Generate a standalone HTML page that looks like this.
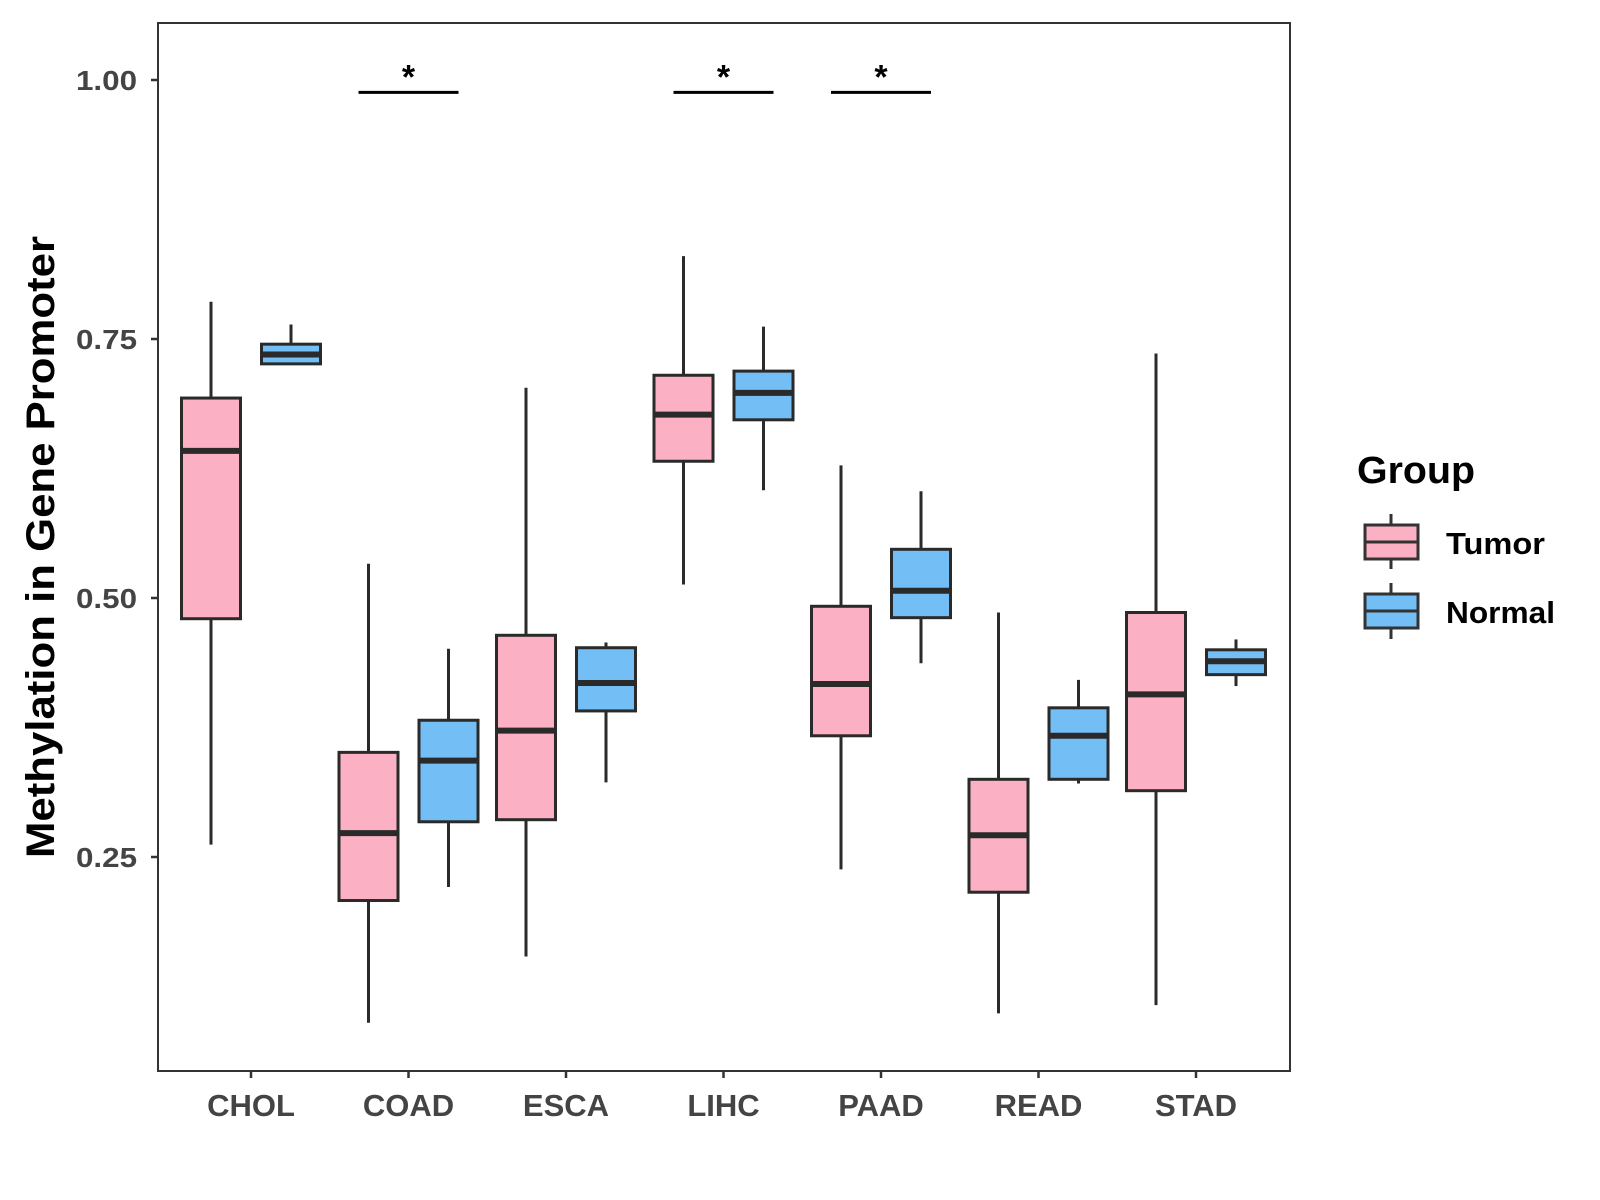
<!DOCTYPE html>
<html><head><meta charset="utf-8"><style>
body{margin:0;background:#fff}
svg{display:block;font-family:"Liberation Sans",Arial,sans-serif;font-weight:bold}
</style></head><body>
<svg id="chart" width="1600" height="1200" viewBox="0 0 1600 1200" xmlns="http://www.w3.org/2000/svg">
<rect x="158" y="23" width="1132" height="1048" fill="#fff" stroke="#333" stroke-width="2"/>
<g id="marks"></g>
<text x="1357" y="483" font-size="38" textLength="118" lengthAdjust="spacingAndGlyphs" fill="#000">Group</text>
<g>
<line x1="1391" y1="514" x2="1391" y2="569" stroke="#333" stroke-width="3"/>
<rect x="1365" y="525" width="53" height="34" fill="#FBB1C3" stroke="#333" stroke-width="3"/>
<line x1="1365" y1="542" x2="1418" y2="542" stroke="#333" stroke-width="3"/>
<text x="1446" y="554" font-size="31" textLength="99" lengthAdjust="spacingAndGlyphs" fill="#000">Tumor</text>
</g>
<g>
<line x1="1391" y1="583" x2="1391" y2="639" stroke="#333" stroke-width="3"/>
<rect x="1365" y="594" width="53" height="34" fill="#74BEF6" stroke="#333" stroke-width="3"/>
<line x1="1365" y1="611" x2="1418" y2="611" stroke="#333" stroke-width="3"/>
<text x="1446" y="623" font-size="31" textLength="109" lengthAdjust="spacingAndGlyphs" fill="#000">Normal</text>
</g>
<text transform="translate(54,547) rotate(-90)" text-anchor="middle" font-size="40" textLength="622" lengthAdjust="spacingAndGlyphs" fill="#000">Methylation in Gene Promoter</text>
</svg>
<script>
const categories=["CHOL","COAD","ESCA","LIHC","PAAD","READ","STAD"];
// [low, q1, median, q3, high]
const tumorStats=[[0.262,0.480,0.642,0.693,0.786],[0.090,0.208,0.273,0.351,0.533],[0.154,0.286,0.372,0.464,0.703],[0.513,0.632,0.677,0.715,0.830],[0.238,0.367,0.417,0.492,0.628],[0.099,0.216,0.271,0.325,0.486],[0.107,0.314,0.407,0.486,0.736]];
const normalStats=[[0.726,0.726,0.735,0.745,0.764],[0.221,0.284,0.343,0.382,0.451],[0.322,0.391,0.418,0.452,0.457],[0.604,0.672,0.698,0.719,0.762],[0.437,0.481,0.507,0.547,0.603],[0.321,0.325,0.367,0.394,0.421],[0.415,0.426,0.439,0.450,0.460]];
const yTicks=[0.25,0.50,0.75,1.00];
const yTickLabels=["0.25","0.50","0.75","1.00"];
const sigCategories=["COAD","LIHC","PAAD"];
const sigLevel=0.988;

const y=v=>80+(1-v)*1036;
const x=i=>251+157.5*i;
const g=document.getElementById('marks');
const NS="http://www.w3.org/2000/svg";
function mk(tag,attrs,parent){const e=document.createElementNS(NS,tag);for(const k in attrs)e.setAttribute(k,attrs[k]);(parent||g).appendChild(e);return e;}

yTicks.forEach((t,i)=>{
  const tk=mk('line',{x1:151,x2:158,y1:y(t),y2:y(t),stroke:'#333','stroke-width':2.5});
  
  
  const lb=mk('text',{x:137,y:y(t)+10,'text-anchor':'end','font-size':28,textLength:61,lengthAdjust:'spacingAndGlyphs',fill:'#444'});
  lb.textContent=yTickLabels[i];
  
  
});
categories.forEach((c,i)=>{
  const tk=mk('line',{x1:x(i),x2:x(i),y1:1071,y2:1078,stroke:'#333','stroke-width':2.5});
  
  
  const lb=mk('text',{x:x(i),y:1116,'text-anchor':'middle','font-size':31,fill:'#444'});
  lb.textContent=c;
  
  
});
function box(cx,s,fill,name){
  const bg=mk('g',{});
  
  
  const w=29.5;
  mk('line',{x1:cx,x2:cx,y1:y(s[0]),y2:y(s[4]),stroke:'#2a2a2a','stroke-width':3},bg);
  mk('rect',{x:cx-w,y:y(s[3]),width:2*w,height:y(s[1])-y(s[3]),fill:fill,stroke:'#2a2a2a','stroke-width':3},bg);
  mk('line',{x1:cx-w,x2:cx+w,y1:y(s[2]),y2:y(s[2]),stroke:'#2a2a2a','stroke-width':6},bg);
}
categories.forEach((c,i)=>{
  box(x(i)-40,tumorStats[i],'#FBB1C3','box-tumor-'+c.toLowerCase());
  box(x(i)+40,normalStats[i],'#74BEF6','box-normal-'+c.toLowerCase());
});
sigCategories.forEach(c=>{
  const i=categories.indexOf(c);
  const l=mk('line',{x1:x(i)-50,x2:x(i)+50,y1:y(sigLevel),y2:y(sigLevel),stroke:'#000','stroke-width':3});
  
  
  const s=mk('text',{x:x(i),y:y(sigLevel)-4,'text-anchor':'middle','font-size':34,fill:'#000'});
  s.textContent='*';
  
  
});
</script>
</body></html>
